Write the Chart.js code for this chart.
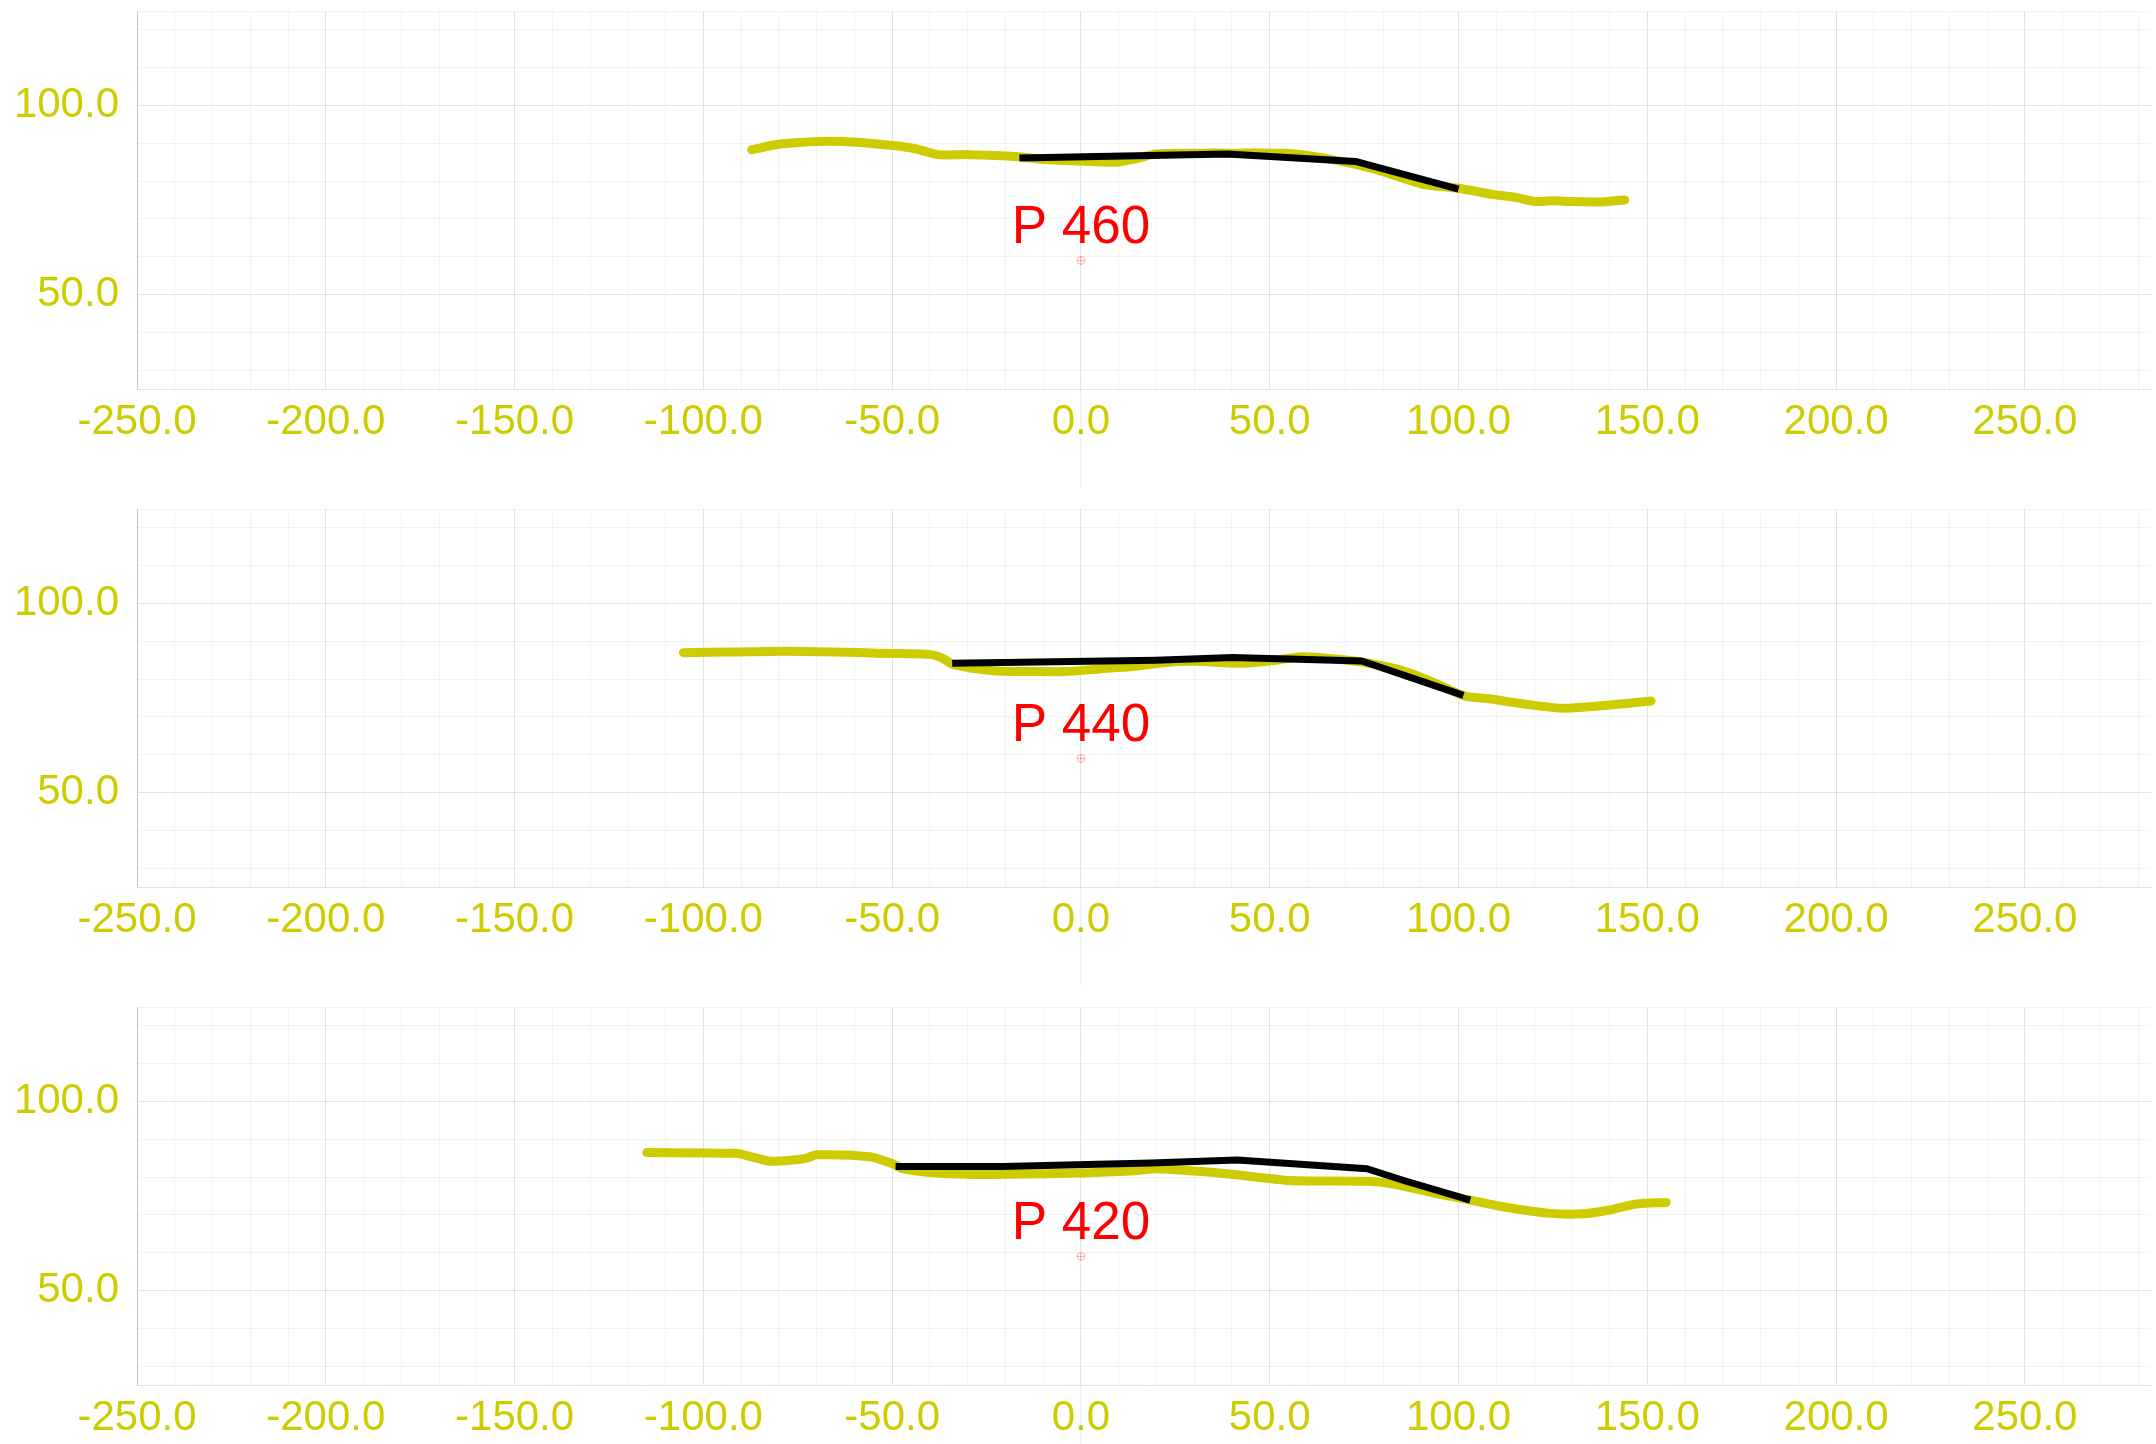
<!DOCTYPE html>
<html>
<head>
<meta charset="utf-8">
<title>Cross sections</title>
<script src="https://cdn.jsdelivr.net/npm/chart.js@4.4.1/dist/chart.umd.min.js"></script>
<style>
    html, body { margin: 0; padding: 0; background: #ffffff; overflow: hidden; }
    .panel { position: relative; width: 2156px; height: 498px; }
</style>
</head>
<body>
<div class="panel"><canvas id="section0"></canvas></div>
<div class="panel"><canvas id="section1"></canvas></div>
<div class="panel"><canvas id="section2"></canvas></div>
<script>
// Station names, top to bottom
const stations = ['P 460', 'P 440', 'P 420'];

// Existing ground (yellow) - offset and elevation
const ground460X = [-87.2, -79.7, -69.2, -59.5, -49.8, -43.6, -37.9, -29.5, -17.2, -10, 0, 9.3, 14.5, 19.8, 30, 40, 56.8, 70, 80, 90, 100, 108.8, 115, 120.3, 124.7, 130, 138, 144];
const ground460Y = [88.3, 89.8, 90.5, 90.3, 89.4, 88.5, 87.0, 87.0, 86.5, 85.7, 85.3, 85.0, 85.9, 87.2, 87.4, 87.4, 87.2, 85.0, 82.5, 79.3, 78.1, 76.5, 75.7, 74.6, 74.8, 74.6, 74.5, 75.0];
const ground440X = [-105.3, -92, -78.9, -65.6, -52.4, -40.1, -36.6, -33.9, -23.3, -12.8, -4, 4.8, 13.7, 22.5, 30, 41.9, 50, 58.6, 67.4, 76.2, 86, 94.8, 101.7, 108, 116.8, 127.3, 137, 151];
const ground440Y = [87.0, 87.2, 87.4, 87.2, 86.8, 86.5, 85.5, 83.9, 82.2, 82.0, 82.0, 82.7, 83.3, 84.4, 84.7, 84.2, 84.8, 85.9, 85.3, 84.2, 82.0, 78.5, 75.5, 74.8, 73.5, 72.3, 72.9, 74.2];
const ground420X = [-115, -91.2, -88.5, -82.4, -76.2, -72.7, -70, -55.9, -49.8, -47.1, -38.3, -25.1, -3.1, 14.5, 19.8, 30, 40.5, 55.5, 74.9, 82, 93.4, 103.1, 111, 124.2, 133, 140, 147.1, 155];
const ground420Y = [86.5, 86.3, 85.7, 84.2, 84.5, 85.0, 85.9, 85.4, 83.5, 82.2, 81.1, 80.7, 81.0, 81.7, 82.2, 81.6, 80.7, 79.1, 78.9, 78.3, 75.8, 73.9, 72.3, 70.4, 70.3, 71.3, 72.9, 73.3];

// Design profile (black)
const design460X = [-16.3, 38.8, 72.7, 100];
const design460Y = [86.1, 87.2, 85.2, 77.9];
const design440X = [-34.1, 19.8, 40.1, 74.4, 101.3];
const design440Y = [84.2, 85.0, 85.7, 84.8, 75.7];
const design420X = [-49.1, -20.7, 18.5, 41.4, 75.8, 85.5, 103.1];
const design420Y = [82.8, 82.8, 83.7, 84.5, 82.2, 79.1, 73.9];

// Centre marker and label elevation
const markerY = [59, 59, 59];
const labelY = [63.5, 63.5, 63.5];

// Axis extents and tick labels
const xMin = -250, xMax = 283.4;
const yMin = 25, yMax = 125;
const xLabelTicks = [-250, -200, -150, -100, -50, 0, 50, 100, 150, 200, 250];
const yLabelTicks = [50, 100];

const groundX = [ground460X, ground440X, ground420X];
const groundY = [ground460Y, ground440Y, ground420Y];
const designX = [design460X, design440X, design420X];
const designY = [design460Y, design440Y, design420Y];

const yellow = '#cccc00';
const fontFamily = "'Liberation Sans', Arial, sans-serif";

function toPoints(xs, ys) {
    return xs.map((x, i) => ({ x: x, y: ys[i] }));
}

function gridValues(min, max, step) {
    const out = [];
    for (let v = Math.ceil(min / step) * step; v <= max; v += step) out.push(v);
    return out;
}

// Draws the station name and the little x=0 line below the plot
const stationLabel = {
    id: 'stationLabel',
    afterDatasetsDraw(chart, args, opts) {
        const ctx = chart.ctx;
        const xs = chart.scales.x, ys = chart.scales.y;
        const px = xs.getPixelForValue(0);
        ctx.save();
        ctx.strokeStyle = 'rgba(0,0,0,0.1)';
        ctx.lineWidth = 1;
        ctx.beginPath();
        ctx.moveTo(px, chart.chartArea.bottom);
        ctx.lineTo(px, chart.chartArea.bottom + 98);
        ctx.stroke();
        ctx.fillStyle = '#ff0000';
        ctx.font = '53px ' + fontFamily;
        ctx.textAlign = 'center';
        ctx.textBaseline = 'alphabetic';
        ctx.fillText(opts.text, px, ys.getPixelForValue(opts.y));
        ctx.restore();
    }
};

stations.forEach(function(name, i) {
    const canvas = document.getElementById('section' + i);
    new Chart(canvas.getContext('2d'), {
        type: 'line',
        data: {
            datasets: [{
                label: 'Design',
                data: toPoints(designX[i], designY[i]),
                borderColor: '#000000',
                borderWidth: 7,
                borderCapStyle: 'butt',
                borderJoinStyle: 'round',
                pointRadius: 0,
                tension: 0
            }, {
                label: 'Ground',
                data: toPoints(groundX[i], groundY[i]),
                borderColor: yellow,
                borderWidth: 9,
                borderCapStyle: 'round',
                borderJoinStyle: 'round',
                pointRadius: 0,
                tension: 0.25
            }, {
                label: 'Centre',
                data: [{ x: 0, y: markerY[i] }],
                showLine: false,
                pointStyle: 'circle',
                pointRadius: 4,
                borderWidth: 1,
                borderColor: 'rgba(255,0,0,0.3)',
                backgroundColor: 'rgba(0,0,0,0)'
            }, {
                label: 'CentreCross',
                data: [{ x: 0, y: markerY[i] }],
                showLine: false,
                pointStyle: 'cross',
                pointRadius: 4,
                borderWidth: 1,
                borderColor: 'rgba(255,0,0,0.3)'
            }]
        },
        options: {
            responsive: true,
            maintainAspectRatio: false,
            animation: false,
            layout: { padding: { top: 11, right: 0, left: 0, bottom: 0 } },
            scales: {
                x: {
                    type: 'linear',
                    min: xMin,
                    max: xMax,
                    afterBuildTicks: function(scale) {
                        scale.ticks = gridValues(xMin, xMax, 10).map(v => ({ value: v }));
                    },
                    afterFit: function(scale) {
                        scale.height = 109;
                        scale.paddingRight = 0;
                    },
                    grid: {
                        drawTicks: false,
                        color: ctx => (ctx.tick && ctx.tick.value % 50 === 0) ? 'rgba(0,0,0,0.11)' : 'rgba(0,0,0,0.045)'
                    },
                    border: { color: 'rgba(0,0,0,0.08)' },
                    ticks: {
                        autoSkip: false,
                        maxRotation: 0,
                        padding: 8,
                        color: yellow,
                        font: { family: fontFamily, size: 42 },
                        callback: v => xLabelTicks.includes(v) ? v.toFixed(1) : ''
                    }
                },
                y: {
                    type: 'linear',
                    min: yMin,
                    max: yMax,
                    afterBuildTicks: function(scale) {
                        const vals = [yMin].concat(gridValues(yMin, yMax, 10), [yMax]);
                        scale.ticks = vals.map(v => ({ value: v }));
                    },
                    afterFit: function(scale) {
                        scale.width = 137;
                        scale.paddingTop = 0;
                        scale.paddingBottom = 0;
                    },
                    grid: {
                        drawTicks: false,
                        color: ctx => (ctx.tick && ctx.tick.value % 50 === 0) ? 'rgba(0,0,0,0.11)' : 'rgba(0,0,0,0.045)'
                    },
                    border: { color: 'rgba(0,0,0,0.12)' },
                    ticks: {
                        autoSkip: false,
                        padding: 18,
                        color: yellow,
                        font: { family: fontFamily, size: 42 },
                        callback: v => yLabelTicks.includes(v) ? v.toFixed(1) : ''
                    }
                }
            },
            plugins: {
                legend: { display: false },
                tooltip: { enabled: false },
                stationLabel: { text: name, y: labelY[i] }
            }
        },
        plugins: [stationLabel]
    });
});
</script>
</body>
</html>
